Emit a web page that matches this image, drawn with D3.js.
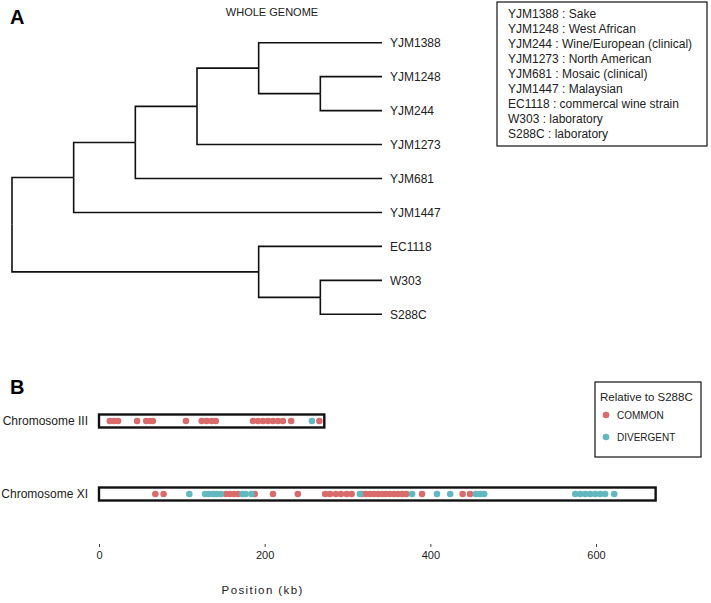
<!DOCTYPE html>
<html><head><meta charset="utf-8">
<script src="https://cdn.jsdelivr.net/npm/d3@7/dist/d3.min.js"></script>
<style>body{margin:0;background:#fff}svg{display:block;font-family:"Liberation Sans",Arial,sans-serif}</style>
</head><body><svg id="c" width="711" height="603"></svg>
<script>
// ---- Data ----
const treeData = {children:[
  {children:[
    {children:[
      {children:[
        {children:[
          {name:"YJM1388"},
          {children:[{name:"YJM1248"},{name:"YJM244"}]}
        ]},
        {name:"YJM1273"}
      ]},
      {name:"YJM681"}
    ]},
    {name:"YJM1447"}
  ]},
  {children:[
    {name:"EC1118"},
    {children:[{name:"W303"},{name:"S288C"}]}
  ]}
]};
const strainLegend = ["YJM1388 : Sake","YJM1248 : West African","YJM244 : Wine/European (clinical)",
  "YJM1273 : North American","YJM681 : Mosaic (clinical)","YJM1447 : Malaysian",
  "EC1118 : commercal wine strain","W303 : laboratory","S288C : laboratory"];
const chromosomes = ["Chromosome III","Chromosome XI"];
const chromLengths = [272, 672];
const categories = ["COMMON","DIVERGENT"];
// variant positions (kb)
const chrIII_common = [13,18,23,46,57,62,65,105,124,130,136,141,186,192,198,204,210,216,222,232,266];
const chrIII_divergent = [257];
const chrXI_common = [68,78,153,158,163,168,188,210,240,273,279,286,292,299,305,317,322,327,332,337,342,346,351,356,361,366,371,390,439,448];
const chrXI_divergent = [109,128,133,138,142,147,173,177,184,315,378,408,424,455,460,465,575,581,587,593,599,605,611,622];
const xTicks = [0,200,400,600];

const colors = {COMMON:"#d96b6b", DIVERGENT:"#62b8c0"};
const svg = d3.select("#c");

// ---- Panel A ----
svg.append("text").attr("x",10).attr("y",24).attr("font-size",20).attr("font-weight","bold").text("A");
svg.append("text").attr("x",272).attr("y",16).attr("text-anchor","middle").attr("font-size",11).attr("fill","#222").text("WHOLE GENOME");

const root = d3.hierarchy(treeData);
d3.cluster().size([1, 1]).separation(()=>1)(root);
const leaves = root.leaves();
const vy = d3.scaleLinear().domain([leaves[0].x, leaves[leaves.length-1].x]).range([42.7, 314.3]);
const hx = d3.scaleLinear().domain([0, 1]).range([12, 382]);
const gA = svg.append("g");
gA.selectAll("path.link").data(root.links()).join("path")
  .attr("fill","none").attr("stroke","#111").attr("stroke-width",1.6)
  .attr("d", d => `M${hx(d.source.y)},${vy(d.source.x)}V${vy(d.target.x)}H${hx(d.target.y)}`);
gA.selectAll("text.leaf").data(leaves).join("text")
  .attr("x", d => hx(d.y) + 8).attr("y", d => vy(d.x)).attr("dy","0.35em")
  .attr("font-size",12).attr("fill","#222").text(d => d.data.name);

svg.append("rect").attr("x",497).attr("y",2).attr("width",210).attr("height",144)
  .attr("fill","none").attr("stroke","#111").attr("stroke-width",1.2);
svg.append("g").selectAll("text").data(strainLegend).join("text")
  .attr("x",508).attr("y",(d,i)=>14+i*15).attr("dy","0.35em")
  .attr("font-size",12).attr("fill","#222").text(d=>d);

// ---- Panel B ----
svg.append("text").attr("x",10).attr("y",394).attr("font-size",20).attr("font-weight","bold").text("B");
const x = d3.scaleLinear().domain([0,600]).range([99,596]);
const y = d3.scalePoint().domain(chromosomes).range([421,494]);

const gB = svg.append("g");
chromosomes.forEach((c,i)=>{
  gB.append("rect").attr("x",x(0)).attr("y",y(c)-6.5).attr("width",x(chromLengths[i])-x(0)).attr("height",13)
    .attr("fill","#fff").attr("stroke","#111").attr("stroke-width",2.4);
  gB.append("text").attr("x",88).attr("y",y(c)).attr("dy","0.35em").attr("text-anchor","end")
    .attr("font-size",12).attr("fill","#222").text(c);
});
const pts = [];
chrIII_common.forEach(v=>pts.push({c:chromosomes[0],v,t:"COMMON"}));
chrIII_divergent.forEach(v=>pts.push({c:chromosomes[0],v,t:"DIVERGENT"}));
chrXI_common.forEach(v=>pts.push({c:chromosomes[1],v,t:"COMMON"}));
chrXI_divergent.forEach(v=>pts.push({c:chromosomes[1],v,t:"DIVERGENT"}));
gB.selectAll("circle").data(pts).join("circle")
  .attr("cx",d=>x(d.v)).attr("cy",d=>y(d.c)).attr("r",3.3).attr("fill",d=>colors[d.t]);

const ax = svg.append("g").attr("transform","translate(0,544)")
  .call(d3.axisBottom(x).tickValues(xTicks).tickSize(3).tickPadding(4));
ax.select(".domain").remove();
ax.selectAll("text").attr("font-size",11).attr("fill","#222").attr("font-family","Liberation Sans, Arial, sans-serif");
ax.selectAll("line").attr("stroke","#444");
svg.append("text").attr("x",x(200)-2).attr("y",594).attr("text-anchor","middle").attr("font-size",11.5)
  .attr("letter-spacing",1.4).attr("fill","#222").text("Position (kb)");

// legend B
svg.append("rect").attr("x",595).attr("y",382).attr("width",106).attr("height",75)
  .attr("fill","none").attr("stroke","#111").attr("stroke-width",1.2);
svg.append("text").attr("x",600).attr("y",397).attr("dy","0.35em").attr("font-size",11.5).attr("fill","#222").text("Relative to S288C");
categories.forEach((k,i)=>{
  svg.append("circle").attr("cx",606).attr("cy",415+i*22).attr("r",3.3).attr("fill",colors[k]);
  svg.append("text").attr("x",617).attr("y",415+i*22).attr("dy","0.35em").attr("font-size",10).attr("fill","#222").text(k);
});
</script></body></html>
